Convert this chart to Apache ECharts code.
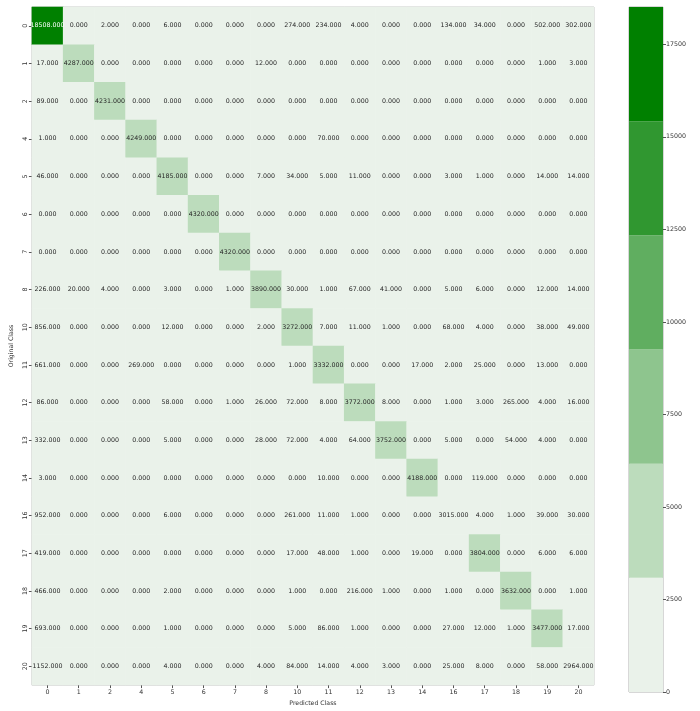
<!DOCTYPE html>
<html>
<head>
<meta charset="utf-8">
<script src="https://cdn.jsdelivr.net/npm/echarts@6/dist/echarts.min.js"></script>
<style>html,body{margin:0;padding:0;background:#fff;}#c{width:700px;height:711px;}</style>
</head>
<body>
<div id="c"></div>
<script>
const classes = ['0','1','2','4','5','6','7','8','10','11','12','13','14','16','17','18','19','20'];
const row0  = [18508, 0, 2, 0, 6, 0, 0, 0, 274, 234, 4, 0, 0, 134, 34, 0, 502, 302];
const row1  = [17, 4287, 0, 0, 0, 0, 0, 12, 0, 0, 0, 0, 0, 0, 0, 0, 1, 3];
const row2  = [89, 0, 4231, 0, 0, 0, 0, 0, 0, 0, 0, 0, 0, 0, 0, 0, 0, 0];
const row4  = [1, 0, 0, 4249, 0, 0, 0, 0, 0, 70, 0, 0, 0, 0, 0, 0, 0, 0];
const row5  = [46, 0, 0, 0, 4185, 0, 0, 7, 34, 5, 11, 0, 0, 3, 1, 0, 14, 14];
const row6  = [0, 0, 0, 0, 0, 4320, 0, 0, 0, 0, 0, 0, 0, 0, 0, 0, 0, 0];
const row7  = [0, 0, 0, 0, 0, 0, 4320, 0, 0, 0, 0, 0, 0, 0, 0, 0, 0, 0];
const row8  = [226, 20, 4, 0, 3, 0, 1, 3890, 30, 1, 67, 41, 0, 5, 6, 0, 12, 14];
const row10 = [856, 0, 0, 0, 12, 0, 0, 2, 3272, 7, 11, 1, 0, 68, 4, 0, 38, 49];
const row11 = [661, 0, 0, 269, 0, 0, 0, 0, 1, 3332, 0, 0, 17, 2, 25, 0, 13, 0];
const row12 = [86, 0, 0, 0, 58, 0, 1, 26, 72, 8, 3772, 8, 0, 1, 3, 265, 4, 16];
const row13 = [332, 0, 0, 0, 5, 0, 0, 28, 72, 4, 64, 3752, 0, 5, 0, 54, 4, 0];
const row14 = [3, 0, 0, 0, 0, 0, 0, 0, 0, 10, 0, 0, 4188, 0, 119, 0, 0, 0];
const row16 = [952, 0, 0, 0, 6, 0, 0, 0, 261, 11, 1, 0, 0, 3015, 4, 1, 39, 30];
const row17 = [419, 0, 0, 0, 0, 0, 0, 0, 17, 48, 1, 0, 19, 0, 3804, 0, 6, 6];
const row18 = [466, 0, 0, 0, 2, 0, 0, 0, 1, 0, 216, 1, 0, 1, 0, 3632, 0, 1];
const row19 = [693, 0, 0, 0, 1, 0, 0, 0, 5, 86, 1, 0, 0, 27, 12, 1, 3477, 17];
const row20 = [1152, 0, 0, 0, 4, 0, 0, 4, 84, 14, 4, 3, 0, 25, 8, 0, 58, 2964];
const matrix = [row0,row1,row2,row4,row5,row6,row7,row8,row10,row11,row12,row13,row14,row16,row17,row18,row19,row20];
const colorbarTicks = [0, 2500, 5000, 7500, 10000, 12500, 15000, 17500];
const binColors = ['#eaf2ea','#bcdcbc','#8ec58e','#60ae60','#309730','#008000'];

const vmax = Math.max(...matrix.map(r => Math.max(...r)));
const nb = binColors.length;
function binOf(v){ return Math.min(nb-1, Math.floor(v / vmax * nb)); }
function lum(hex){
  const c=[1,3,5].map(i=>parseInt(hex.substr(i,2),16)/255).map(x=> x<=0.03928? x/12.92 : Math.pow((x+0.055)/1.055,2.4));
  return 0.2126*c[0]+0.7152*c[1]+0.0722*c[2];
}
const data = [];
matrix.forEach((r, yi) => r.forEach((v, xi) => {
  const col = binColors[binOf(v)];
  data.push({value:[xi, yi, v], itemStyle:{color:col}, label:{color: lum(col) < 0.408 ? '#ffffff' : '#262626'}});
}));

const FONT = 'DejaVu Sans';
const txt = '#333333';
const cbSeries = binColors.map((c, i) => ({
  type:'bar', xAxisIndex:1, yAxisIndex:1, stack:'cb', barWidth:'100%', silent:true,
  itemStyle:{color:c}, data:[vmax/nb]
}));

const chart = echarts.init(document.getElementById('c'), null, {renderer:'canvas'});
chart.setOption({
  animation:false,
  backgroundColor:'#ffffff',
  textStyle:{fontFamily:FONT},
  grid:[
    {left:31, top:7, width:563, height:685, show:true, borderColor:'#c4c4c4', borderWidth:1, backgroundColor:'transparent'},
    {left:629, top:7, width:34, height:685, show:true, borderColor:'#b0b0b0', borderWidth:1, backgroundColor:'transparent'}
  ],
  xAxis:[
    {type:'category', gridIndex:0, data:classes, position:'bottom',
     name:'Predicted Class', nameLocation:'middle', nameGap:14,
     nameTextStyle:{fontFamily:FONT, fontSize:6.2, color:txt},
     axisLine:{show:false}, axisTick:{show:true, length:3, alignWithLabel:true, lineStyle:{color:'#555'}},
     axisLabel:{fontFamily:FONT, fontSize:6.3, color:txt, margin:4}, splitLine:{show:false}},
    {type:'category', gridIndex:1, data:[''], show:false}
  ],
  yAxis:[
    {type:'category', gridIndex:0, data:classes, inverse:true,
     name:'Original Class', nameLocation:'middle', nameGap:15, nameRotate:90,
     nameTextStyle:{fontFamily:FONT, fontSize:6.2, color:txt},
     axisLine:{show:false}, axisTick:{show:true, length:3, alignWithLabel:true, lineStyle:{color:'#555'}},
     axisLabel:{fontFamily:FONT, fontSize:6.3, color:txt, margin:4, rotate:90}, splitLine:{show:false}},
    {type:'value', gridIndex:1, min:0, max:vmax, interval:2500, position:'right',
     axisLine:{show:false}, axisTick:{show:true, length:3, lineStyle:{color:'#555'}},
     axisLabel:{fontFamily:FONT, fontSize:6.3, color:txt, margin:3, showMaxLabel:false,
       formatter: v => colorbarTicks.includes(v) ? String(v) : ''},
     splitLine:{show:false}}
  ],
  series:[
    {type:'heatmap', xAxisIndex:0, yAxisIndex:0, data:data,
     label:{show:true, fontFamily:FONT, fontSize:6.3, formatter: p => p.value[2].toFixed(3)},
     itemStyle:{borderWidth:0}, emphasis:{disabled:true}}
  ].concat(cbSeries)
});
</script>
</body>
</html>
